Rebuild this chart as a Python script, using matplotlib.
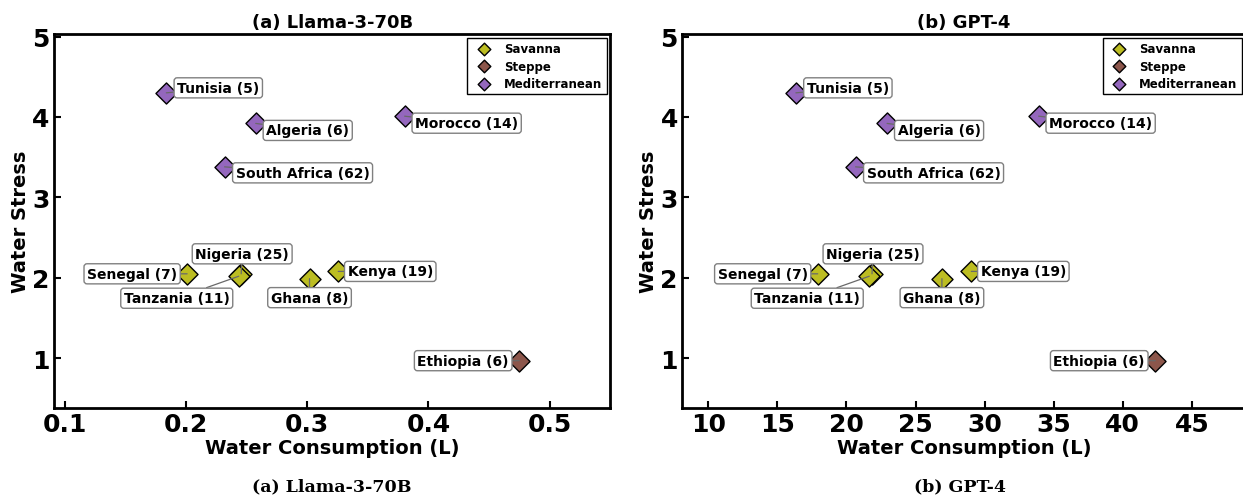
import matplotlib

matplotlib.use("Agg")
import matplotlib.pyplot as plt

countries = ["Tunisia", "Algeria", "Morocco", "South Africa", "Senegal",
             "Nigeria", "Tanzania", "Ghana", "Kenya", "Ethiopia"]
counts = [5, 6, 14, 62, 7, 25, 11, 8, 19, 6]
zones = ["Mediterranean", "Mediterranean", "Mediterranean", "Mediterranean", "Savanna",
         "Savanna", "Savanna", "Savanna", "Savanna", "Steppe"]
water_stress = [4.30, 3.92, 4.01, 3.38, 2.05, 2.05, 2.02, 1.99, 2.08, 0.97]
llama_water = [0.1837, 0.2575, 0.3804, 0.2318, 0.2009, 0.2455, 0.2435, 0.3019, 0.3256, 0.4749]
gpt4_water = [16.34, 22.94, 33.91, 20.66, 17.92, 21.85, 21.65, 26.91, 29.04, 42.35]

zone_order = ["Savanna", "Steppe", "Mediterranean"]
zone_colors = {"Savanna": "#bcbd22", "Steppe": "#8c564b", "Mediterranean": "#9467bd"}

# label placement (pixels from the point, x right / y up)
label_offsets = {
    "Tunisia": (52, 5), "Algeria": (52, -7), "Morocco": (62, -7),
    "South Africa": (78, -6), "Senegal": (-55, 0), "Nigeria": (1, 20),
    "Tanzania": (-62, -22), "Ghana": (0, -19), "Kenya": (52, 0), "Ethiopia": (-56, 0),
}

panels = [
    ("(a) Llama-3-70B", llama_water, (0.091, 0.55), [0.1, 0.2, 0.3, 0.4, 0.5]),
    ("(b) GPT-4", gpt4_water, (8.1, 48.9), [10, 15, 20, 25, 30, 35, 40, 45]),
]
axes_rects = [[0.0434, 0.185, 0.4475, 0.745], [0.5487, 0.185, 0.4535, 0.745]]

fig = plt.figure(figsize=(12.43, 5.02), dpi=100)

for (title, xs, xlim, xticks), rect in zip(panels, axes_rects):
    ax = fig.add_axes(rect)
    for zone in zone_order:
        idx = [i for i, z in enumerate(zones) if z == zone]
        ax.scatter([xs[i] for i in idx], [water_stress[i] for i in idx], marker="D", s=115,
                   color=zone_colors[zone], edgecolor="black", linewidth=1.0, label=zone, zorder=3)
    for i, name in enumerate(countries):
        dx, dy = label_offsets[name]
        ax.annotate(f"{name} ({counts[i]})", (xs[i], water_stress[i]), xytext=(dx, dy),
                    textcoords="offset pixels", ha="center", va="center",
                    fontsize=10, fontweight="bold",
                    bbox=dict(boxstyle="round,pad=0.22", fc="white", ec="gray", lw=1),
                    arrowprops=dict(arrowstyle="-", color="dimgray", lw=0.9, shrinkA=0, shrinkB=0),
                    zorder=4)
    ax.set_xlim(*xlim)
    ax.set_ylim(0.38, 5.03)
    ax.set_xticks(xticks)
    ax.set_yticks([1, 2, 3, 4, 5])
    ax.tick_params(direction="in", length=5, width=1.5, labelsize=18, pad=3)
    for lab in ax.get_xticklabels() + ax.get_yticklabels():
        lab.set_fontweight("bold")
    for spine in ax.spines.values():
        spine.set_linewidth(2)
    ax.set_xlabel("Water Consumption (L)", fontsize=14, fontweight="bold", labelpad=1)
    ax.set_ylabel("Water Stress", fontsize=14, fontweight="bold", labelpad=2)
    ax.set_title(title, fontsize=13, fontweight="bold", pad=5)
    leg = ax.legend(loc="upper right", markerscale=0.6, fancybox=False, edgecolor="black",
                    prop={"weight": "bold", "size": 8.5}, borderaxespad=0.3, handletextpad=0.7,
                    labelspacing=0.35, framealpha=1)
    leg.get_frame().set_linewidth(1)
    fig.text(rect[0] + 0.4475 / 2, 0.03, title, ha="center", va="center",
             fontsize=12.5, fontweight="bold", family="DejaVu Serif")

fig.savefig("out.png", dpi=100)
